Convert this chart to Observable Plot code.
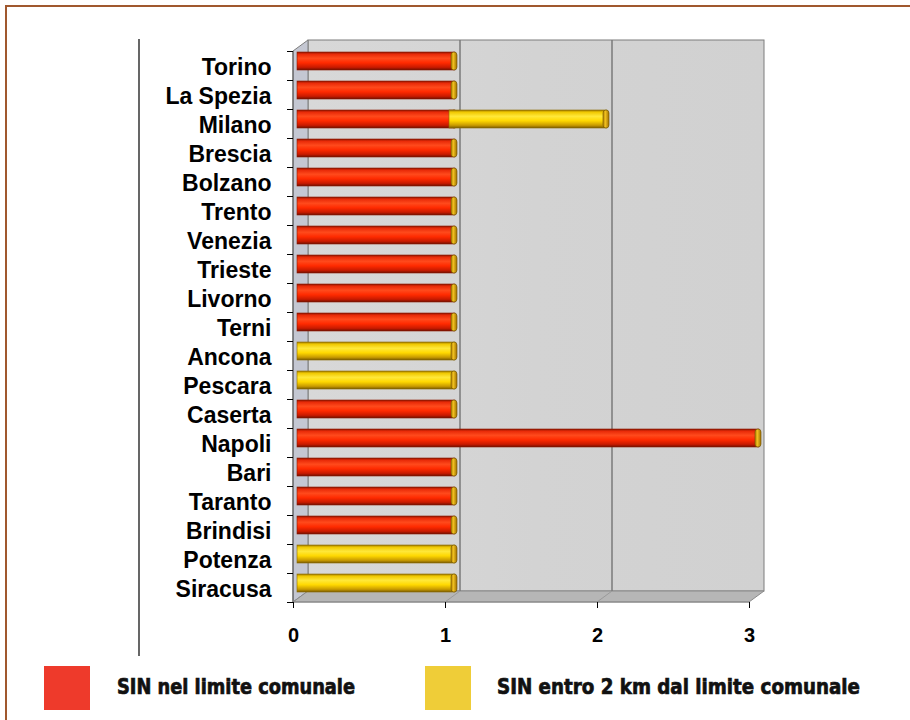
<!DOCTYPE html>
<html><head><meta charset="utf-8">
<script src="https://cdn.jsdelivr.net/npm/d3@7"></script>
<script src="https://cdn.jsdelivr.net/npm/@observablehq/plot@0.6"></script>
<style>
body{margin:0;background:#fff;width:910px;height:720px;overflow:hidden;position:relative;font-family:"Liberation Sans",Arial,sans-serif}
#border{position:absolute;left:5px;top:5px;width:910px;height:720px;border-top:2px solid #a0582e;border-left:2px solid #a0582e;}
#chart{position:absolute;left:0;top:0}
#legend{position:absolute;left:0;top:656px}
</style></head><body>
<div id="border"></div>
<div id="chart"></div>
<svg id="legend" width="910" height="64"></svg>
<script>
const cities = ["Torino","La Spezia","Milano","Brescia","Bolzano","Trento","Venezia","Trieste","Livorno","Terni","Ancona","Pescara","Caserta","Napoli","Bari","Taranto","Brindisi","Potenza","Siracusa"];
const sinNelLimite = [1,1,1,1,1,1,1,1,1,1,0,0,1,3,1,1,1,0,0];
const sinEntro2km  = [0,0,1,0,0,0,0,0,0,0,1,1,0,0,0,0,0,1,1];
const xTicks = [0,1,2,3];
const seriesNames = ["SIN nel limite comunale","SIN entro 2 km dal limite comunale"];
const legendColors = ["#ee3a2b","#efcd38"];

const rows = [];
cities.forEach((c,i)=>{
  let start = 0;
  [sinNelLimite[i], sinEntro2km[i]].forEach((v,s)=>{
    if (v > 0) rows.push({city:c, series:s, start, end:start+v});
    start += v;
  });
});
const red = rows.filter(d=>d.series===0), yel = rows.filter(d=>d.series===1);
const bo = {y:"city", x1:"start", x2:"end", insetLeft:4, insetRight:-10, insetTop:1, insetBottom:10};
const co = {y:"city", x1:"end", x2:"end", insetLeft:6, insetRight:-12, insetTop:1, insetBottom:10, rx:3};

const plot = Plot.plot({
  width:910, height:656, marginLeft:293, marginRight:161, marginTop:51, marginBottom:54,
  x:{domain:[0,3]}, y:{domain:cities, padding:0},
  style:{fontFamily:"'Liberation Sans', Arial, sans-serif", color:"#000", background:"transparent"},
  marks:[
    Plot.barX(red, {...bo, fill:"url(#gRed)", stroke:"#8a1a00", strokeWidth:0.6}),
    Plot.barX(red, {...co, fill:"url(#gCap)", stroke:"#6e5200", strokeWidth:0.6}),
    Plot.barX(yel, {...bo, fill:"url(#gYel)", stroke:"#8a6a00", strokeWidth:0.6}),
    Plot.barX(yel, {...co, fill:"url(#gCap)", stroke:"#6e5200", strokeWidth:0.6}),
    Plot.axisY({tickSize:6, text:null, dy:-14.5, label:null}),
    Plot.axisY({ticks:[cities[cities.length-1]], tickSize:6, text:null, dy:14.5, label:null}),
    Plot.axisY({tickSize:0, tickPadding:22, fontSize:23, fontWeight:"bold", dy:2, label:null}),
    Plot.axisX({ticks:xTicks, tickSize:6, tickPadding:19, fontSize:20, fontWeight:"bold", tickFormat:d3.format("d"), label:null})
  ]
});
document.getElementById("chart").appendChild(plot);

// decorations from scales
const svg = d3.select(plot);
const X = plot.scale("x"), Y = plot.scale("y");
const x0 = X.apply(0), x3 = X.apply(3);
const yTop = Y.apply(cities[0]), yBot = Y.apply(cities[cities.length-1]) + Y.bandwidth;
const ox = 15, oy = -11;

const defs = svg.insert("defs", ":first-child");
function grad(id, stops, vertical=true){
  const g = defs.append("linearGradient").attr("id", id)
    .attr("x1",0).attr("y1",0).attr("x2", vertical?0:1).attr("y2", vertical?1:0);
  stops.forEach(([o,c])=>g.append("stop").attr("offset",o).attr("stop-color",c));
}
grad("gRed", [[0,"#8c1400"],[0.12,"#e82a08"],[0.35,"#ff4a1c"],[0.6,"#ff2a00"],[0.85,"#c81a00"],[1,"#701000"]]);
grad("gYel", [[0,"#9a7600"],[0.12,"#f0c800"],[0.35,"#ffe83a"],[0.6,"#ffd800"],[0.85,"#c89a00"],[1,"#7a5c00"]]);
grad("gCap", [[0,"#b08000"],[0.4,"#f0c020"],[1,"#a07000"]], false);
grad("gWall", [[0,"#d8d8d8"],[0.5,"#d3d3d3"],[1,"#d1d1d1"]], false);

const deco = svg.insert("g", "defs + *");
deco.append("rect").attr("x", x0+ox).attr("y", yTop+oy).attr("width", x3-x0).attr("height", yBot-yTop)
  .attr("fill","url(#gWall)").attr("stroke","#7d7d7d");
deco.append("polygon").attr("points", [[x0,yTop],[x0+ox,yTop+oy],[x0+ox,yBot+oy],[x0,yBot]].join(" "))
  .attr("fill","#c4c7d2").attr("stroke","#7d7d7d");
deco.append("polygon").attr("points", [[x0,yBot],[x0+ox,yBot+oy],[x3+ox,yBot+oy],[x3,yBot]].join(" "))
  .attr("fill","#b6b6b6").attr("stroke","#8a8a8a");
xTicks.filter(t=>t>0 && t<3).forEach(t=>{
  deco.append("line").attr("x1",X.apply(t)+ox).attr("x2",X.apply(t)+ox).attr("y1",yTop+oy).attr("y2",yBot+oy)
    .attr("stroke","#7a7a7a").attr("stroke-width",1.5);
  deco.append("line").attr("x1",X.apply(t)+ox).attr("x2",X.apply(t)).attr("y1",yBot+oy).attr("y2",yBot)
    .attr("stroke","#9a9a9a");
});
deco.append("line").attr("x1",x0).attr("x2",x0).attr("y1",yTop).attr("y2",yBot).attr("stroke","#555");
deco.append("line").attr("x1",x0).attr("x2",x3).attr("y1",yBot).attr("y2",yBot).attr("stroke","#888");
deco.append("line").attr("x1",139).attr("x2",139).attr("y1",39).attr("y2",656).attr("stroke","#000").attr("stroke-width",1.2);

// legend
const lg = d3.select("#legend");
const lx = [[44,117,238],[425,497,363]];
seriesNames.forEach((n,i)=>{
  lg.append("rect").attr("x",lx[i][0]).attr("y",10).attr("width",46).attr("height",44).attr("fill",legendColors[i]);
  lg.append("text").attr("x",lx[i][1]).attr("y",38).attr("textLength",lx[i][2]).attr("lengthAdjust","spacingAndGlyphs")
    .attr("font-family","'DejaVu Sans Condensed','DejaVu Sans',sans-serif").attr("font-weight","bold").attr("font-size",22)
    .attr("fill","#111").attr("stroke","#111").attr("stroke-width",0.7).text(n);
});
</script>
</body></html>
